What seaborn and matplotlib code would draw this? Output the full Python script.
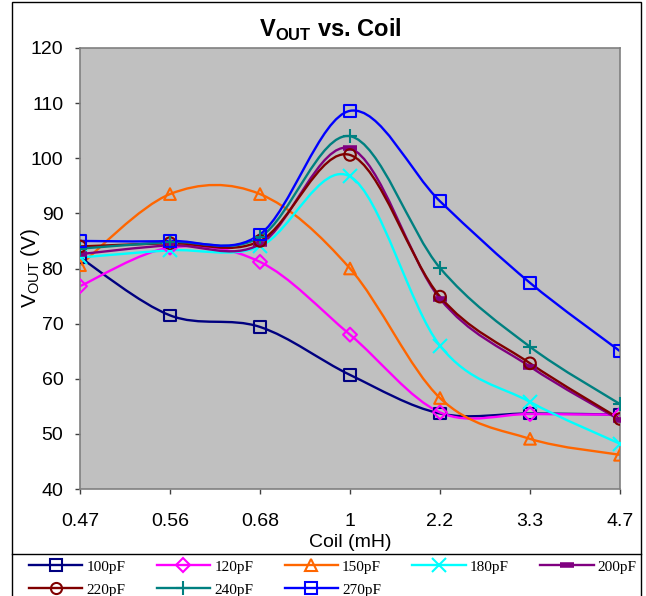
import seaborn as sns
import matplotlib.pyplot as plt
import pandas as pd
import numpy as np
from matplotlib.path import Path
from matplotlib.patches import PathPatch, Rectangle
from matplotlib.lines import Line2D

# Datos
coil = ['0.47', '0.56', '0.68', '1', '2.2', '3.3', '4.7']
v_100pF = [82.0, 71.5, 69.4, 60.7, 53.7, 53.7, 53.5]
v_120pF = [76.8, 83.8, 81.2, 68.0, 53.9, 53.6, 53.5]
v_150pF = [80.6, 93.5, 93.5, 80.0, 56.5, 49.1, 46.2]
v_180pF = [82.0, 83.3, 84.0, 96.7, 66.0, 55.8, 48.2]
v_200pF = [82.6, 84.2, 84.4, 101.8, 74.5, 62.2, 52.5]
v_220pF = [84.0, 84.6, 85.0, 100.6, 74.9, 62.8, 52.7]
v_240pF = [83.6, 84.8, 85.7, 104.0, 80.1, 65.8, 55.4]
v_270pF = [85.0, 85.0, 86.2, 108.6, 92.2, 77.4, 65.0]

series = {
    '100pF': v_100pF, '120pF': v_120pF, '150pF': v_150pF, '180pF': v_180pF,
    '200pF': v_200pF, '220pF': v_220pF, '240pF': v_240pF, '270pF': v_270pF,
}
colors = {
    '100pF': '#000080', '120pF': '#FF00FF', '150pF': '#FF6600', '180pF': '#00FFFF',
    '200pF': '#800080', '220pF': '#800000', '240pF': '#008080', '270pF': '#0000FF',
}
markers = {
    '100pF': 's', '120pF': 'D', '150pF': '^', '180pF': 'x',
    '200pF': '_', '220pF': 'o', '240pF': '+', '270pF': 's',
}

df = pd.DataFrame([
    {'coil': c, 'pos': i, 'v': v, 'cap': name}
    for name, vals in series.items() for i, (c, v) in enumerate(zip(coil, vals))
])

plt.rcParams['font.family'] = ['Liberation Sans', 'DejaVu Sans']
plt.rcParams['mathtext.fontset'] = 'custom'
plt.rcParams['mathtext.rm'] = 'Liberation Sans'
plt.rcParams['mathtext.bf'] = 'Liberation Sans:bold'


def smooth_path(ys):
    # curva suavizada tipo Excel (Bezier por Catmull-Rom)
    pts = np.column_stack([np.arange(len(ys)), ys]).astype(float)
    verts = [pts[0]]
    codes = [Path.MOVETO]
    n = len(pts)
    for i in range(n - 1):
        p0 = pts[i - 1] if i > 0 else pts[i]
        p1, p2 = pts[i], pts[i + 1]
        p3 = pts[i + 2] if i + 2 < n else pts[i + 1]
        verts += [p1 + (p2 - p0) / 6, p2 - (p3 - p1) / 6, p2]
        codes += [Path.CURVE4] * 3
    return Path(verts, codes)


fig = plt.figure(figsize=(6.46, 5.96), dpi=100)
ax = fig.add_axes([80 / 646, 1 - 489 / 596, 540 / 646, 441 / 596])
ax.set_facecolor('#C0C0C0')

for name, vals in series.items():
    ax.add_patch(PathPatch(smooth_path(vals), fill=False, edgecolor=colors[name],
                           lw=1.7, zorder=2))

for name in series:
    sub = df[df['cap'] == name]
    m = markers[name]
    if m in ('x', '+'):
        ax.plot(sub['pos'], sub['v'], linestyle='none', marker=m, ms=10, mew=1.5,
                color=colors[name], zorder=3)
    elif m == '_':
        ax.plot(sub['pos'], sub['v'], linestyle='none', marker='_', ms=10, mew=4,
                color=colors[name], zorder=3)
    else:
        sns.scatterplot(x=sub['pos'], y=sub['v'], marker=m, s=70 if m != 'D' else 50,
                        facecolor='none', edgecolor=colors[name], linewidth=1.5,
                        ax=ax, zorder=3, legend=False)

ax.set_xlim(0, len(coil) - 1)
ax.set_ylim(40, 120)
ax.set_xticks(range(len(coil)))
ax.set_xticklabels(coil)
ax.set_yticks(range(40, 121, 10))
ax.tick_params(axis='both', labelsize=14, direction='out', length=3.5,
               color='#404040', width=1)
ax.tick_params(axis='x', pad=13.5)
ax.tick_params(axis='y', pad=8.5)
for s in ax.spines.values():
    s.set_color('#808080')
    s.set_linewidth(1.2)
ax.set_xlabel('Coil (mH)', fontsize=14, labelpad=3)
ax.set_ylabel(r'V$_{\mathregular{OUT}}$ (V)', fontsize=15)
ax.yaxis.set_label_coords(-38 / 540, 0.5)
fig.text(330 / 646, 1 - 30 / 596, r'V$_{\mathbf{OUT}}$ vs. Coil', fontsize=17,
         fontweight='bold', ha='center', va='center')

# marco exterior y caja de la leyenda
fig.patches.append(Rectangle((12 / 646, -0.01), 629 / 646, 1 - 2 / 596 + 0.01,
                             transform=fig.transFigure, fill=False,
                             edgecolor='black', lw=1))
fig.lines.append(Line2D([12 / 646, 641 / 646], [1 - 554 / 596] * 2,
                        transform=fig.transFigure, color='black', lw=1))
handles = {}
for name in series:
    m = markers[name]
    if m == '_':
        h = Line2D([], [], color=colors[name], lw=1.7, marker='_', ms=10, mew=4)
    elif m in ('x', '+'):
        h = Line2D([], [], color=colors[name], lw=1.7, marker=m, ms=10, mew=1.5)
    else:
        h = Line2D([], [], color=colors[name], lw=1.7, marker=m,
                   ms=8 if m != 'D' else 7, mfc='none', mew=1.5)
    handles[name] = h
# orden por filas (la leyenda se llena por columnas)
order = ['100pF', '220pF', '120pF', '240pF', '150pF', '270pF', '180pF', '200pF']
leg = fig.legend([handles[k] for k in order], order, ncol=5,
                 bbox_to_anchor=(29 / 646, 1 - 560 / 596), loc='upper left',
                 prop={'family': 'Liberation Serif', 'size': 11},
                 handlelength=3.5, handletextpad=0.26, borderaxespad=0,
                 columnspacing=2.05, labelspacing=0.6, frameon=False, borderpad=0)

fig.savefig('out.png', dpi=100)
